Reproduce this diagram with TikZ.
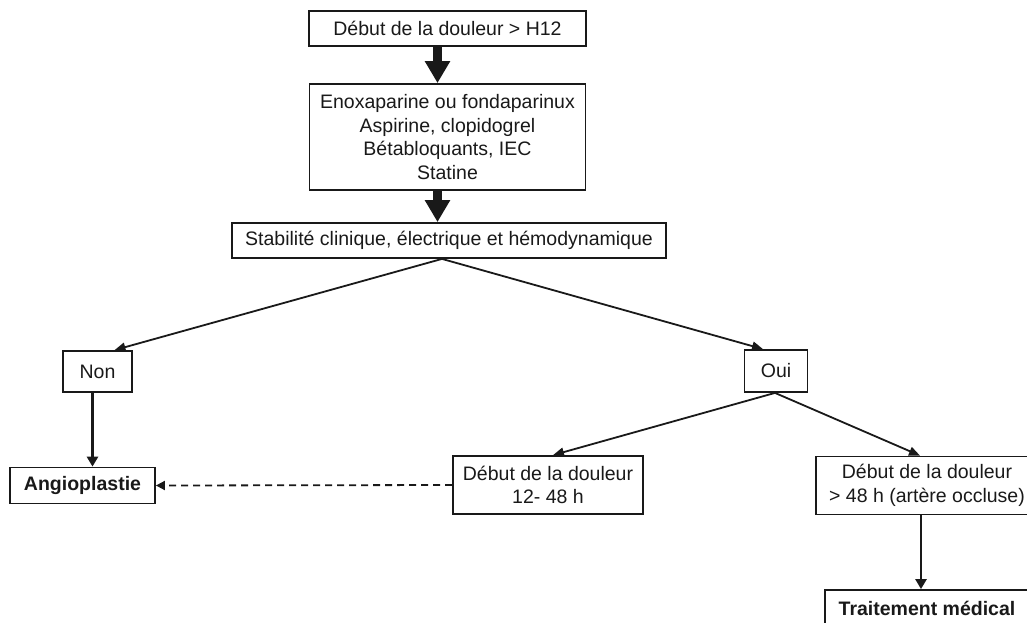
\documentclass[tikz,border=0pt]{standalone}
\usepackage{fontspec}
\setmainfont{Liberation Sans}
\usetikzlibrary{arrows.meta,positioning}
\definecolor{fg}{RGB}{25,25,25}
\tikzset{
  every picture/.style={fg, line width=1.8pt, line join=miter},
  every node/.style={font=\fontsize{19.5}{23.4}\selectfont, text=fg},
  % Kästen
  box/.style={draw, line width=1.8pt, inner sep=0pt, align=center},
  strong/.style={font=\fontsize{19.5}{23.4}\selectfont\bfseries},
  % Pfeile
  flow/.style={line width=8.5pt, -{Triangle[length=22pt,width=24pt]}},
  drop/.style={line width=2.8pt, -{Triangle[length=10pt,width=11pt]}},
  link/.style={line width=1.8pt, -{Triangle[length=11pt,width=9pt]}},
  alt/.style={line width=1.8pt, dash pattern=on 7pt off 5pt, -{Triangle[length=9pt,width=9pt]}},
}
\begin{document}
\begin{tikzpicture}[x=1pt, y=-1pt]
  \useasboundingbox (0,0) rectangle (1027,622);
  \clip (0,0) rectangle (1027,622);
  % Kästen, Mittelpunkte in Pixeln
  \node[box, minimum width=277, minimum height=35] (deb) at (447.5,28.5) {Début de la douleur > H12};
  \node[box, minimum width=276, minimum height=106] (trt) at (447.5,137)
    {Enoxaparine ou fondaparinux\\Aspirine, clopidogrel\\Bétabloquants, IEC\\Statine};
  \node[box, minimum width=434, minimum height=35] (stab) at (449,240.5)
    {Stabilité clinique, électrique et hémodynamique};
  \node[box, minimum width=69, minimum height=41] (non) at (97.5,371.5) {Non};
  \node[box, minimum width=63, minimum height=42] (oui) at (776,371) {Oui};
  \node[box, strong, minimum width=145, minimum height=36] (angio) at (82.5,485.5) {Angioplastie};
  \node[box, minimum width=190, minimum height=58] (d1248) at (548,485) {Début de la douleur\\12- 48 h};
  \node[box, minimum width=222, minimum height=58] (d48) at (927,485.5)
    {Début de la douleur\\ > 48 h (artère occluse)};
  \node[box, strong, minimum width=204, minimum height=36] (tm) at (927,608) {Traitement médical};
  % Hauptachse
  \draw[flow] ([xshift=-10]deb.south) -- ([xshift=-10]deb.south |- trt.north);
  \draw[flow] ([xshift=-10]trt.south) -- ([xshift=-10]trt.south |- stab.north);
  % Verzweigungen
  \coordinate (s) at ([xshift=-7]stab.south);
  \draw[link] (s) -- ([xshift=17]non.north);
  \draw[link] (s) -- ([xshift=-13]oui.north);
  \coordinate (o) at ([xshift=-1]oui.south);
  \draw[link] (o) -- ([xshift=5]d1248.north);
  \draw[link] (o) -- ([xshift=-7]d48.north);
  \draw[drop] ([xshift=-5]non.south) -- ([xshift=-5]non.south |- angio.north);
  \draw[drop] ([xshift=-6]d48.south) -- ([xshift=-6]d48.south |- tm.north);
  \draw[alt] (d1248.west) -- (angio.east);
\end{tikzpicture}
\end{document}
